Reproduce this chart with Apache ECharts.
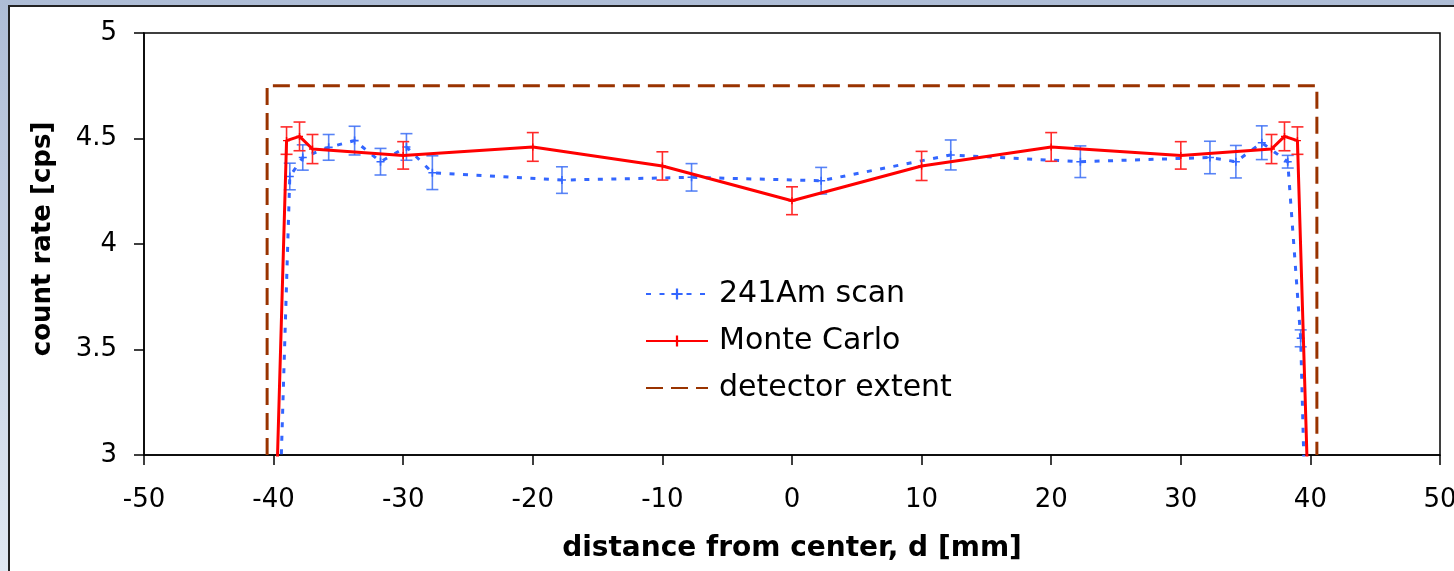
<!DOCTYPE html>
<html>
<head>
<meta charset="utf-8">
<script src="https://cdn.jsdelivr.net/npm/echarts@6/dist/echarts.min.js"></script>
<style>
  html, body { margin: 0; padding: 0; }
  #chart { width: 1454px; height: 571px; }
</style>
</head>
<body>
<div id="chart"></div>
<script>
// ---- data ----
const scanX   = [-39.75, -38.75, -37.75, -35.75, -33.75, -31.75, -29.75, -27.75, -17.75, -7.75, 2.25, 12.25, 22.25, 32.25, 34.25, 36.25, 38.25, 39.25, 40.25];
const scanY   = [2.30, 4.32, 4.41, 4.458, 4.49, 4.39, 4.46, 4.338, 4.303, 4.316, 4.30, 4.422, 4.39, 4.41, 4.39, 4.48, 4.39, 3.553, 1.20];
const scanErr = [null, 0.063, 0.06, 0.061, 0.068, 0.063, 0.063, 0.08, 0.063, 0.065, 0.063, 0.071, 0.075, 0.077, 0.077, 0.08, 0.03, 0.04, null];

const mcX   = [-40, -39, -38, -37, -30, -20, -10, 0, 10, 20, 30, 37, 38, 39, 40];
const mcY   = [2.35, 4.49, 4.51, 4.45, 4.42, 4.46, 4.37, 4.205, 4.37, 4.46, 4.42, 4.45, 4.51, 4.49, 2.45];
const mcErr = [null, 0.065, 0.068, 0.069, 0.065, 0.068, 0.067, 0.066, 0.069, 0.068, 0.065, 0.069, 0.068, 0.065, null];

const detX = [-40.5, -40.5, 40.5, 40.5];
const detY = [3, 4.75, 4.75, 3];

const seriesNames = ['241Am scan', 'Monte Carlo', 'detector extent'];
const xTitle = 'distance from center, d [mm]';
const yTitle = 'count rate [cps]';
const xRange = [-50, 50, 10];
const yRange = [3, 5, 0.5];

// ---- build ----
function pairs(xs, ys) { return xs.map((x, i) => [x, ys[i]]); }
function errData(xs, ys, es) {
  const out = [];
  xs.forEach((x, i) => { if (es[i] != null) out.push([x, ys[i] - es[i], ys[i] + es[i]]); });
  return out;
}
function errRenderer(color, capHalf, lw) {
  return function (params, api) {
    const x = api.value(0), lo = api.value(1), hi = api.value(2);
    const p1 = api.coord([x, lo]), p2 = api.coord([x, hi]);
    const st = { stroke: color, lineWidth: lw };
    return {
      type: 'group',
      children: [
        { type: 'line', shape: { x1: p1[0], y1: p1[1], x2: p2[0], y2: p2[1] }, style: st },
        { type: 'line', shape: { x1: p1[0] - capHalf, y1: p1[1], x2: p1[0] + capHalf, y2: p1[1] }, style: st },
        { type: 'line', shape: { x1: p2[0] - capHalf, y1: p2[1], x2: p2[0] + capHalf, y2: p2[1] }, style: st }
      ]
    };
  };
}
const crossPath = 'path://M4,0 H6 V4 H10 V6 H6 V10 H4 V6 H0 V4 H4 Z';
const FONT = 'DejaVu Sans';

const chart = echarts.init(document.getElementById('chart'));
chart.setOption({
  animation: false,
  backgroundColor: new echarts.graphic.LinearGradient(0, 0, 0, 1, [
    { offset: 0, color: '#aebdd6' },
    { offset: 1, color: '#e0e8f2' }
  ]),
  textStyle: { fontFamily: FONT },
  graphic: [{
    type: 'rect', z: -10, silent: true,
    shape: { x: 9, y: 6, width: 1500, height: 620 },
    style: { fill: '#ffffff', stroke: '#222222', lineWidth: 2 }
  }],
  grid: {
    left: 144, top: 33, right: 14, bottom: 116,
    outerBoundsMode: 'none', containLabel: false,
    show: true, borderColor: '#000', borderWidth: 1.5, backgroundColor: 'transparent'
  },
  legend: {
    data: [
      { name: seriesNames[0] },
      { name: seriesNames[1] },
      { name: seriesNames[2], itemStyle: { opacity: 0 } }
    ],
    orient: 'vertical',
    left: 645, top: 279, padding: 0,
    itemWidth: 62, itemHeight: 14, itemGap: 17,
    textStyle: { fontSize: 30, color: '#000', fontFamily: FONT, padding: [0, 0, 0, 6] }
  },
  xAxis: {
    type: 'value', min: xRange[0], max: xRange[1], interval: xRange[2],
    name: xTitle, nameLocation: 'middle', nameGap: 80,
    nameTextStyle: { fontSize: 28, fontWeight: 'bold', color: '#000', fontFamily: FONT },
    axisLine: { show: true, onZero: false, lineStyle: { color: '#000', width: 1.5 } },
    axisTick: { show: true, inside: false, length: 10, lineStyle: { color: '#000', width: 1.5 } },
    axisLabel: { fontSize: 26, color: '#000', margin: 32, fontFamily: FONT, hideOverlap: false, showMaxLabel: true, showMinLabel: true },
    splitLine: { show: false }
  },
  yAxis: {
    type: 'value', min: yRange[0], max: yRange[1], interval: yRange[2],
    name: yTitle, nameLocation: 'middle', nameGap: 88, nameRotate: 90,
    nameTextStyle: { fontSize: 26, fontWeight: 'bold', color: '#000', fontFamily: FONT, padding: [0, 0, 0, 10] },
    axisLine: { show: true, onZero: false, lineStyle: { color: '#000', width: 1.5 } },
    axisTick: { show: true, inside: false, length: 10, lineStyle: { color: '#000', width: 1.5 } },
    axisLabel: { fontSize: 26, color: '#000', margin: 27, fontFamily: FONT },
    splitLine: { show: false }
  },
  series: [
    {
      name: seriesNames[2], type: 'line', data: pairs(detX, detY),
      symbol: 'none', clip: true, z: 2,
      lineStyle: { color: '#993300', width: 3, type: [17, 8] },
      itemStyle: { color: '#993300' }
    },
    {
      name: 'scanErr', type: 'custom', clip: true, z: 3,
      renderItem: errRenderer('rgba(60,110,245,0.85)', 6, 1.6),
      data: errData(scanX, scanY, scanErr), encode: { x: 0, y: [1, 2] }
    },
    {
      name: seriesNames[0], type: 'line', data: pairs(scanX, scanY),
      symbol: crossPath, symbolSize: 8, showSymbol: true, clip: true, z: 4,
      lineStyle: { color: '#3366ff', width: 3, type: [5, 8.5] },
      itemStyle: { color: '#3366ff' }
    },
    {
      name: 'mcErr', type: 'custom', clip: true, z: 5,
      renderItem: errRenderer('#ff2a2a', 6, 1.6),
      data: errData(mcX, mcY, mcErr), encode: { x: 0, y: [1, 2] }
    },
    {
      name: seriesNames[1], type: 'line', data: pairs(mcX, mcY),
      symbol: crossPath, symbolSize: 7, showSymbol: true, clip: true, z: 6,
      lineStyle: { color: '#ff0000', width: 3 },
      itemStyle: { color: '#ff0000' }
    }
  ]
});
</script>
</body>
</html>
